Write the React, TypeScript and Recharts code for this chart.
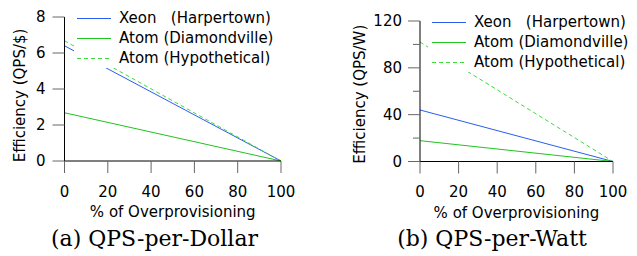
import React from "react";
import { Legend, Line, LineChart, XAxis, YAxis, Label } from "recharts";

const overprovisioning = [0, 100];
const xeonPerDollar = [6.4, 0];
const atomPerDollar = [2.68, 0];
const atomHypoPerDollar = [6.68, 0];
const xeonPerWatt = [44, 0];
const atomPerWatt = [17.8, 0];
const atomHypoPerWatt = [102, 0];

const xTicks = [0, 20, 40, 60, 80, 100];
const dollarTicks = [0, 2, 4, 6, 8];
const wattTicks = [0, 20, 40, 60, 80, 100, 120];
const wattMajor = [0, 40, 80, 120];

const seriesNames = ["Xeon   (Harpertown)", "Atom (Diamondville)", "Atom (Hypothetical)"];
const seriesColors = ["#2b5cf0", "#1fc41f", "#3ddc3d"];
const seriesDash = [undefined, undefined, "4 3"];

const FONT = "'DejaVu Sans', sans-serif";
const TICK_GRAY = "#666";

const build = (a: number[], b: number[], c: number[]) =>
  overprovisioning.map((x, i) => ({ x, s0: a[i], s1: b[i], s2: c[i] }));

const dollarData = build(xeonPerDollar, atomPerDollar, atomHypoPerDollar);
const wattData = build(xeonPerWatt, atomPerWatt, atomHypoPerWatt);

function LegendBox({ padLeft }: { padLeft: number }) {
  return (
    <div style={{ background: "#fff", paddingLeft: padLeft, fontFamily: FONT, fontSize: 15 }}>
      {seriesNames.map((name, i) => (
        <div key={name} style={{ position: "relative", height: 20 }}>
          <div
            style={{
              position: "absolute",
              left: 0,
              top: 10,
              width: 34,
              height: 1,
              background: seriesDash[i]
                ? `repeating-linear-gradient(to right, ${seriesColors[i]} 0 4px, transparent 4px 7px)`
                : seriesColors[i],
            }}
          />
          <span style={{ position: "absolute", left: 42, top: 0, whiteSpace: "pre", lineHeight: "20px" }}>{name}</span>
        </div>
      ))}
    </div>
  );
}

const yLabel = (text: string, dx: number, dy: number) => (props: any) => {
  const vb = props.viewBox;
  const cx = vb.x + dx;
  const cy = vb.y + vb.height / 2 + dy;
  return (
    <text x={cx} y={cy} dy="0.355em" textAnchor="middle" fontSize={15} fontFamily={FONT} fill="#000" transform={`rotate(-90, ${cx}, ${cy})`}>
      {text}
    </text>
  );
};

function WattTick(props: any) {
  const { x, y, payload } = props;
  const major = wattMajor.includes(payload.value);
  const ax = x + 18;
  return (
    <g>
      <line x1={ax - (major ? 12 : 7)} x2={ax} y1={y} y2={y} stroke={TICK_GRAY} />
      {major && (
        <text x={x} y={y} dy="0.355em" textAnchor="end" fontSize={15} fontFamily={FONT} fill="#000">
          {payload.value}
        </text>
      )}
    </g>
  );
}

function Series() {
  return (
    <>
      {seriesNames.map((name, i) => (
        <Line
          key={name}
          dataKey={`s${i}`}
          name={name}
          stroke={seriesColors[i]}
          strokeWidth={1}
          strokeDasharray={seriesDash[i]}
          dot={false}
          activeDot={false}
          isAnimationActive={false}
        />
      ))}
    </>
  );
}

function xAxisEl() {
  return (
    <XAxis
      type="number"
      dataKey="x"
      domain={[0, 100]}
      ticks={xTicks}
      height={60}
      tickSize={12}
      tickMargin={13}
      axisLine={{ stroke: "#000" }}
      tickLine={{ stroke: TICK_GRAY }}
      tick={{ fontSize: 15, fill: "#000", fontFamily: FONT }}
      interval={0}
    >
      <Label value="% of Overprovisioning" position="insideBottom" offset={4} fontSize={15} fontFamily={FONT} fill="#000" />
    </XAxis>
  );
}

export default function App() {
  const caption: React.CSSProperties = {
    position: "absolute",
    top: 226,
    fontFamily: "'DejaVu Serif', serif",
    fontSize: 22,
    lineHeight: "26px",
    textAlign: "center",
    width: 260,
    whiteSpace: "nowrap",
  };
  return (
    <div style={{ position: "absolute", left: 0, top: 0, width: 637, height: 256, background: "#fff", fontFamily: FONT }}>
      <div style={{ position: "absolute", left: 0, top: 0 }}>
        <LineChart width={320} height={256} data={dollarData} margin={{ top: 17, right: 39, bottom: 35, left: 12 }}>
          {xAxisEl()}
          <YAxis
            type="number"
            domain={[0, 8]}
            ticks={dollarTicks}
            width={52.5}
            tickSize={12}
            tickMargin={7}
            axisLine={{ stroke: "#000" }}
            tickLine={{ stroke: TICK_GRAY }}
            tick={{ fontSize: 15, fill: "#000", fontFamily: FONT }}
            interval={0}
          >
            <Label content={yLabel("Efficiency (QPS/$)", 8, 6.5)} />
          </YAxis>
          <Legend
            layout="vertical"
            align="center"
            verticalAlign="middle"
            content={() => <LegendBox padLeft={3} />}
            wrapperStyle={{ left: 74, top: 8, width: 220 }}
          />
          {Series()}
        </LineChart>
      </div>
      <div style={{ position: "absolute", left: 320, top: 0 }}>
        <LineChart width={317} height={256} data={wattData} margin={{ top: 21, right: 24, bottom: 34.5, left: 32 }}>
          {xAxisEl()}
          <YAxis
            type="number"
            domain={[0, 120]}
            ticks={wattTicks}
            width={68}
            tickSize={12}
            tickMargin={6}
            axisLine={{ stroke: "#000" }}
            tickLine={false}
            tick={<WattTick />}
            interval={0}
          >
            <Label content={yLabel("Efficiency (QPS/W)", 8, 3)} />
          </YAxis>
          <Legend
            layout="vertical"
            align="center"
            verticalAlign="middle"
            content={() => <LegendBox padLeft={4} />}
            wrapperStyle={{ left: 108, top: 12, width: 205 }}
          />
          {Series()}
        </LineChart>
      </div>
      <div style={{ ...caption, left: 154.5 - 130 }}>(a) QPS-per-Dollar</div>
      <div style={{ ...caption, left: 492 - 130 }}>(b) QPS-per-Watt</div>
    </div>
  );
}
